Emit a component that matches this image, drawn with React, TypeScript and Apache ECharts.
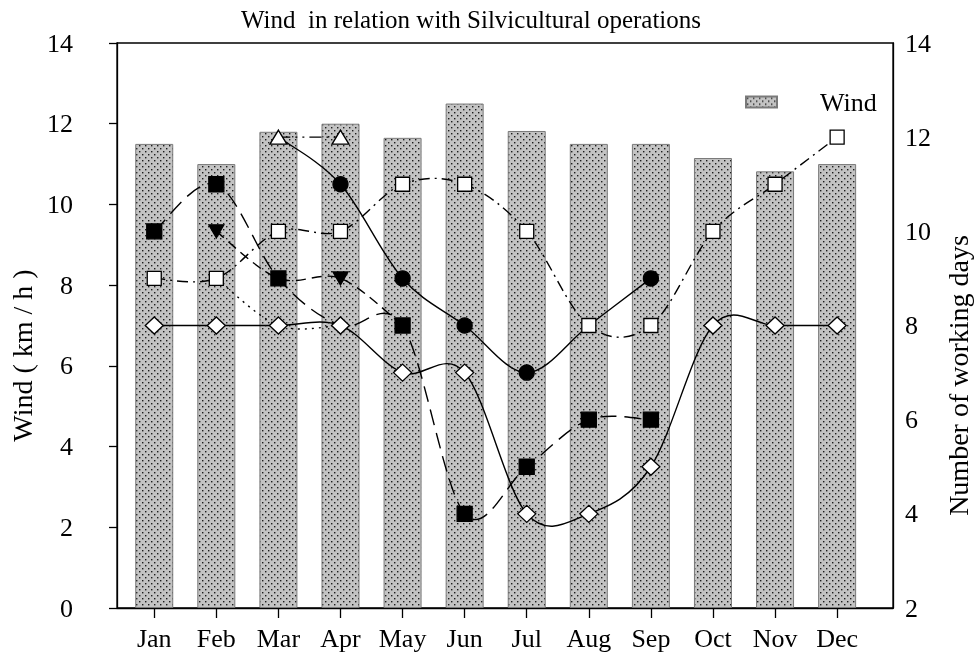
import React, { useEffect, useRef } from "react";
import * as echarts from "echarts";

const months = ["Jan", "Feb", "Mar", "Apr", "May", "Jun", "Jul", "Aug", "Sep", "Oct", "Nov", "Dec"];
const windSpeed = [11.5, 11.0, 11.8, 12.0, 11.65, 12.5, 11.82, 11.5, 11.5, 11.15, 10.82, 11.0];

// Number of working days (right axis), null = no value for that month
const diamondDays = [8, 8, 8, 8, 7, 7, 4, 4, 5, 8, 8, 8];
const openSquareDays = [9, 9, 10, 10, 11, 11, 10, 8, 8, 10, 11, 12];
const circleDays = [null, null, 12, 11, 9, 8, 7, 8, 9, null, null, null];
const filledSquareDays = [10, 11, 9, 8, 8, 4, 5, 6, 6, null, null, null];
const downTriangleDays = [null, 10, 9, 9, 8, null, null, null, null, null, null, null];
const openTriangleDays = [null, null, 12, 12, null, null, null, null, null, null, null, null];
const dottedDays = [null, 9, 8, 8, null, null, null, null, null, null, null, null];

// months whose marker is hidden behind another series' marker
const circleHidden = [2, 7];
const filledSquareHidden = [3];
const downTriangleHidden = [2, 4];

const FONT = "'Liberation Serif', 'Times New Roman', serif";

function points(values: (number | null)[], hidden: number[] = []) {
  const out: number[][] = [];
  values.forEach((v, i) => {
    if (v === null || hidden.includes(i)) return;
    out.push([i, v]);
  });
  return out;
}

function curve(values: (number | null)[], dash: number[] | null) {
  const pts = points(values);
  return {
    type: "custom",
    yAxisIndex: 1,
    data: pts,
    silent: true,
    z: 3,
    renderItem: (params: any, api: any) => {
      if (params.dataIndex !== 0) return null;
      const c = pts.map((p) => api.coord(p));
      let d = `M${c[0][0]},${c[0][1]}`;
      for (let k = 0; k < c.length - 1; k++) {
        const p0 = c[k - 1] || c[k];
        const p1 = c[k];
        const p2 = c[k + 1];
        const p3 = c[k + 2] || c[k + 1];
        const a = [p1[0] + (p2[0] - p0[0]) / 6, p1[1] + (p2[1] - p0[1]) / 6];
        const b = [p2[0] - (p3[0] - p1[0]) / 6, p2[1] - (p3[1] - p1[1]) / 6];
        d += ` C${a[0]},${a[1]} ${b[0]},${b[1]} ${p2[0]},${p2[1]}`;
      }
      return {
        type: "path",
        shape: { pathData: d },
        style: { fill: "none", stroke: "#000", lineWidth: 1.4, lineDash: dash || undefined },
      };
    },
  };
}

function markers(values: (number | null)[], hidden: number[], symbol: string, size: any, fill: string, extra: any = {}) {
  return {
    type: "scatter",
    yAxisIndex: 1,
    data: points(values, hidden),
    symbol,
    symbolSize: size,
    itemStyle: { color: fill, borderColor: "#000", borderWidth: 1.3, opacity: 1 },
    emphasis: { disabled: true },
    silent: true,
    z: 4,
    ...extra,
  };
}

export default function App() {
  const ref = useRef<HTMLDivElement>(null);
  useEffect(() => {
    const chart = echarts.init(ref.current!, null, { renderer: "svg" });
    const canvas = document.createElement("canvas");
    canvas.width = 6;
    canvas.height = 6;
    const ctx = canvas.getContext("2d")!;
    ctx.fillStyle = "#c3c3c3";
    ctx.fillRect(0, 0, 6, 6);
    ctx.fillStyle = "#1c1c1c";
    ctx.fillRect(1, 1, 1.4, 1.4);
    ctx.fillRect(4, 4, 1.4, 1.4);
    const pattern: any = { image: canvas, repeat: "repeat" };

    chart.setOption({
      animation: false,
      title: {
        text: "Wind  in relation with Silvicultural operations",
        left: 236,
        top: 2,
        textStyle: { fontFamily: FONT, fontWeight: "normal", fontSize: 25, color: "#000" },
      },
      legend: {
        left: 740,
        top: 84,
        itemWidth: 31,
        itemHeight: 11,
        data: [{ name: "Wind", icon: "rect" }],
        textStyle: { fontFamily: FONT, fontSize: 26, color: "#000", padding: [0, 0, 0, 38] },
      },
      grid: {
        left: 117,
        right: 86,
        top: 43,
        bottom: 54,
        show: true,
        borderColor: "#000",
        borderWidth: 1.3,
        backgroundColor: "transparent",
        outerBoundsMode: "none",
        containLabel: false,
      },
      xAxis: {
        type: "value",
        min: -0.6,
        max: 11.9,
        splitLine: { show: false },
        axisLine: { show: true, onZero: false, lineStyle: { color: "#000", width: 1.3 } },
        axisTick: {
          show: true,
          inside: false,
          length: 10,
          customValues: months.map((_, i) => i),
          lineStyle: { color: "#000", width: 1.3 },
        },
        axisLabel: {
          customValues: months.map((_, i) => i),
          formatter: (v: number) => months[Math.round(v)] ?? "",
          margin: 17,
          fontFamily: FONT,
          fontSize: 26,
          color: "#000",
        },
      },
      yAxis: [
        {
          type: "value",
          min: 0,
          max: 14,
          interval: 2,
          name: "Wind ( km / h )",
          nameLocation: "middle",
          nameGap: 80,
          nameTextStyle: { fontFamily: FONT, fontSize: 28, color: "#000", padding: [0, 60, 0, 0] },
          splitLine: { show: false },
          axisLine: { show: true, onZero: false, lineStyle: { color: "#000", width: 1.3 } },
          axisTick: { show: true, inside: false, length: 8, lineStyle: { color: "#000", width: 1.3 } },
          axisLabel: { margin: 44, fontFamily: FONT, fontSize: 26, color: "#000" },
        },
        {
          type: "value",
          min: 2,
          max: 14,
          interval: 2,
          position: "right",
          name: "Number of working days",
          nameLocation: "middle",
          nameGap: 51,
          nameTextStyle: { fontFamily: FONT, fontSize: 28, color: "#000", padding: [0, 100, 0, 0] },
          splitLine: { show: false },
          axisLine: { show: true, onZero: false, lineStyle: { color: "#000", width: 1.3 } },
          axisTick: { show: false },
          axisLabel: { margin: 12, fontFamily: FONT, fontSize: 26, color: "#000" },
        },
      ],
      series: [
        {
          name: "Wind",
          type: "bar",
          yAxisIndex: 0,
          barWidth: 38,
          data: windSpeed.map((v, i) => [i, v]),
          itemStyle: { color: pattern, borderColor: "#7a7a7a", borderWidth: 1 },
          emphasis: { disabled: true },
          z: 2,
        },
        curve(dottedDays, [2, 5]),
        curve(circleDays, null),
        curve(downTriangleDays, [10, 6]),
        curve(filledSquareDays, [16, 8]),
        curve(openTriangleDays, [12, 5, 2, 5, 2, 5]),
        curve(openSquareDays, [11, 5, 2, 5]),
        curve(diamondDays, null),
        markers(circleDays, circleHidden, "circle", 15, "#000"),
        markers(downTriangleDays, downTriangleHidden, "triangle", [15, 13], "#000", { symbolRotate: 180 }),
        markers(filledSquareDays, filledSquareHidden, "rect", 15, "#000"),
        markers(openTriangleDays, [], "triangle", [17, 14], "#fff"),
        markers(openSquareDays, [], "rect", 14, "#fff"),
        markers(diamondDays, [], "diamond", [18, 17], "#fff"),
      ],
    });
    return () => chart.dispose();
  }, []);
  return <div ref={ref} style={{ position: "fixed", left: 0, top: 0, width: 979, height: 662 }} />;
}
